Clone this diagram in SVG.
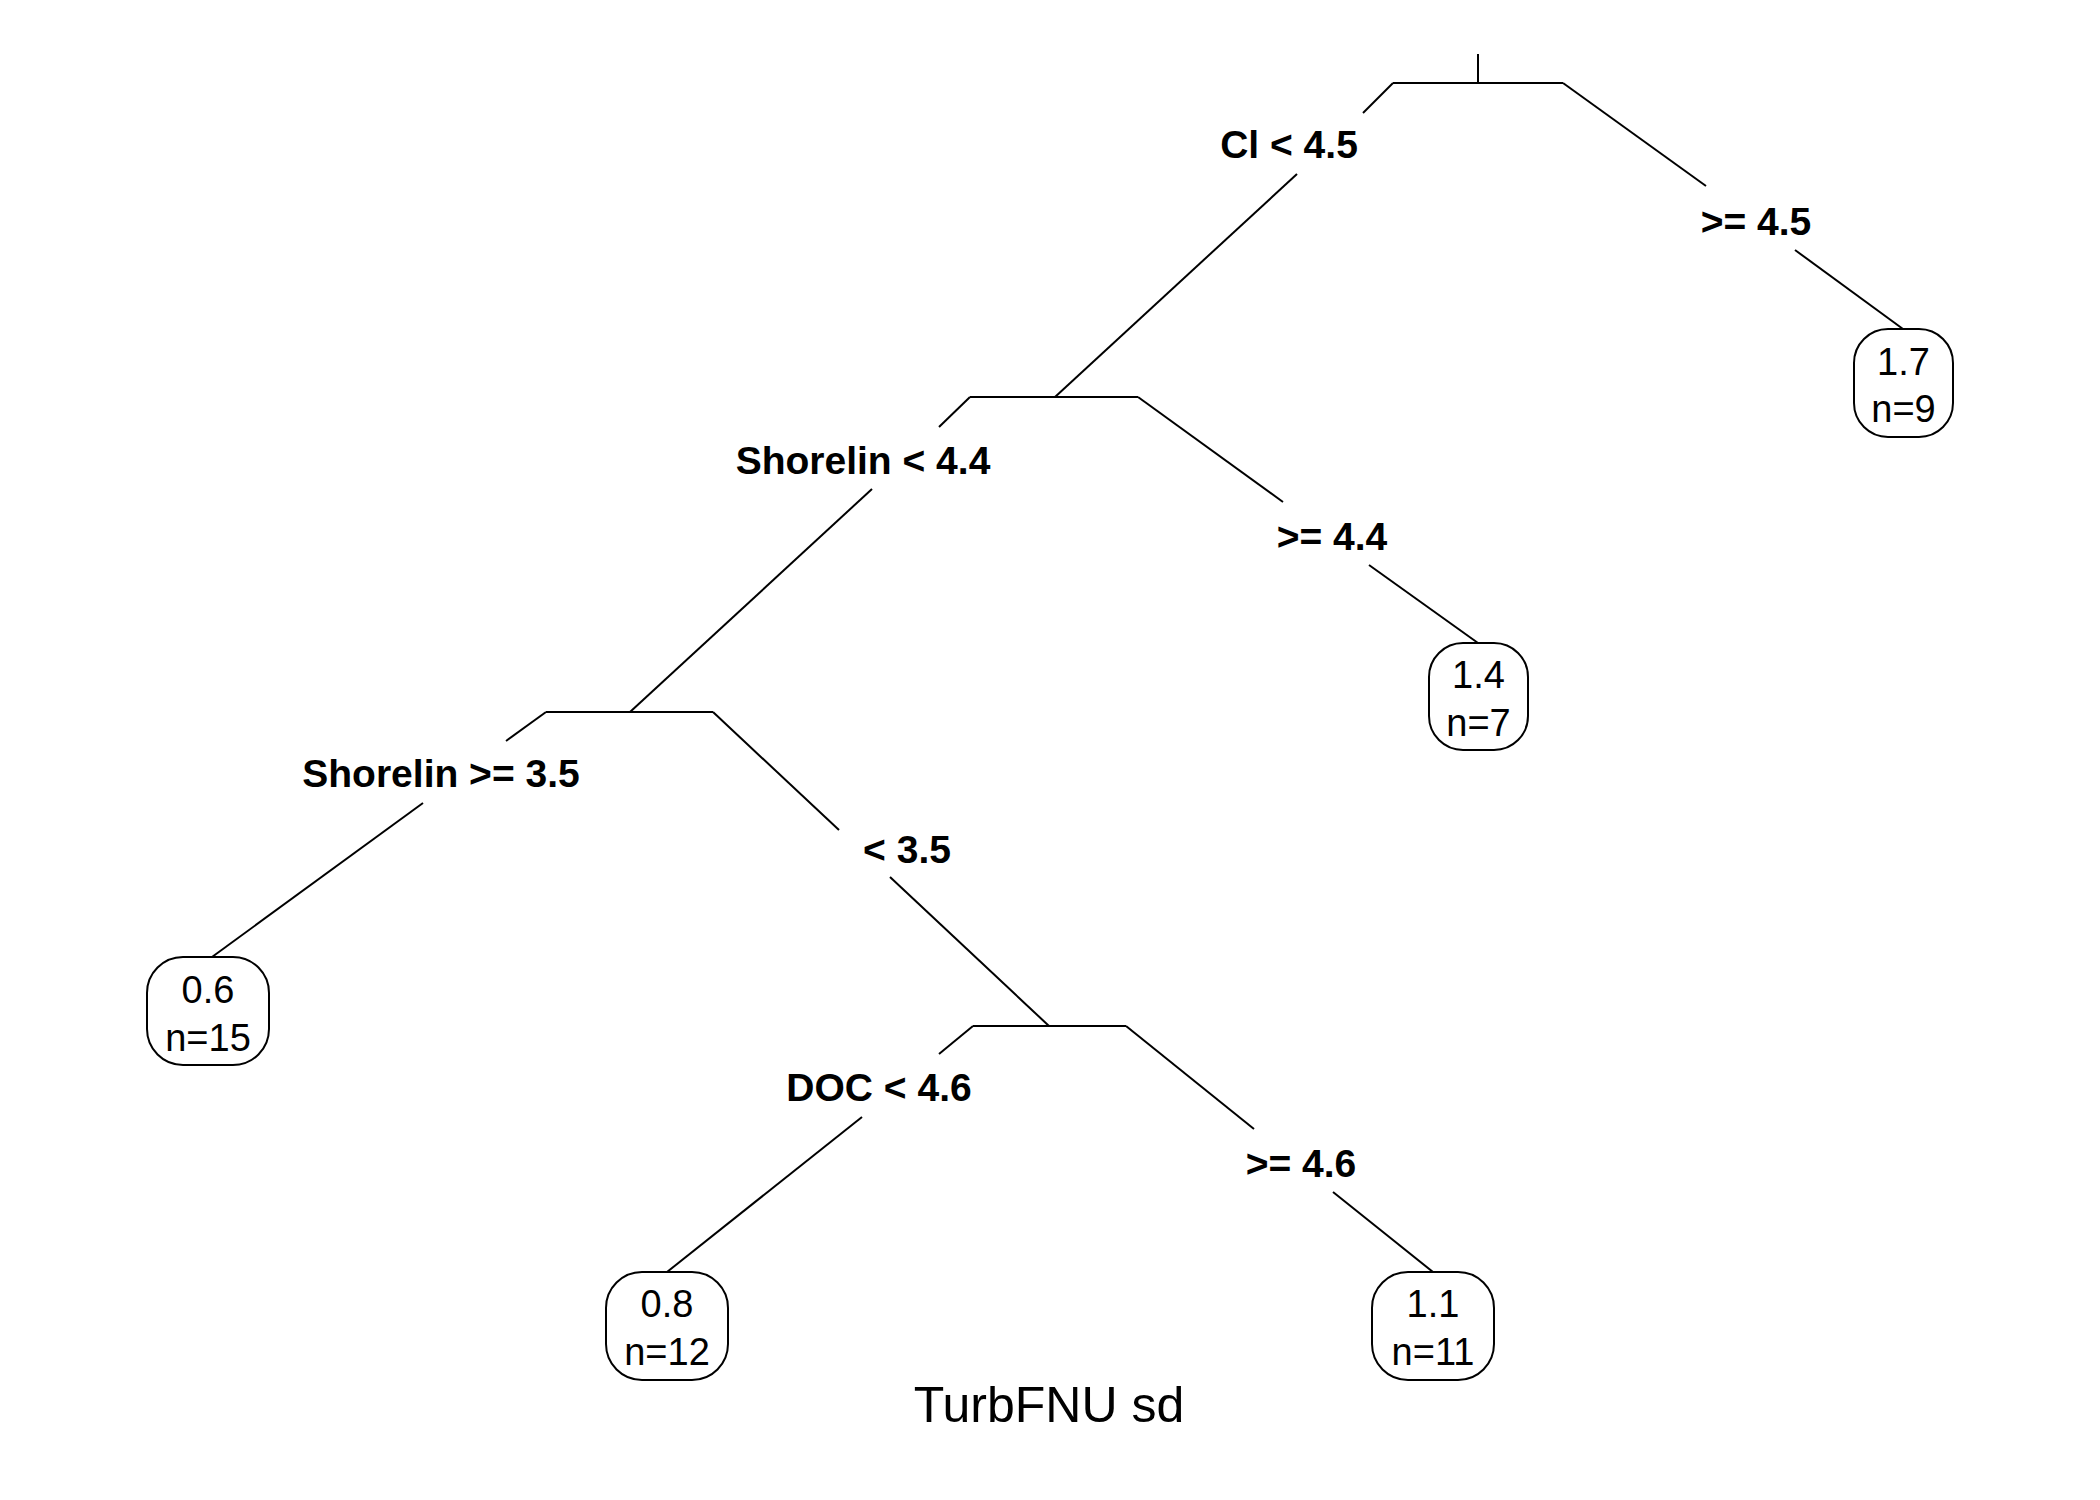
<svg xmlns="http://www.w3.org/2000/svg" width="2100" height="1500" viewBox="0 0 2100 1500">
<style>
  .ln { stroke: #000; stroke-width: 2; fill: none; stroke-linecap: butt; }
  .box { stroke: #000; stroke-width: 2; fill: #fff; }
  .split { font-family: "Liberation Sans", Arial, sans-serif; font-weight: bold; font-size: 39px; text-anchor: middle; fill: #000; }
  .leaf { font-family: "Liberation Sans", Arial, sans-serif; font-size: 38px; text-anchor: middle; fill: #000; }
  .title { font-family: "Liberation Sans", Arial, sans-serif; font-size: 50px; text-anchor: middle; fill: #000; }
</style>
<rect width="2100" height="1500" fill="#fff"/>
<g id="connectors">
  <line class="ln" x1="1478" y1="54" x2="1478" y2="83"/>
  <line class="ln" x1="1393" y1="83" x2="1363" y2="113"/>
  <line class="ln" x1="1297" y1="174" x2="1055" y2="397"/>
  <line class="ln" x1="1563" y1="83" x2="1706" y2="186"/>
  <line class="ln" x1="1795" y1="250" x2="1903" y2="329"/>
  <line class="ln" x1="970" y1="397" x2="939" y2="427"/>
  <line class="ln" x1="872" y1="489" x2="630" y2="712"/>
  <line class="ln" x1="1138" y1="397" x2="1283" y2="502"/>
  <line class="ln" x1="1369" y1="565" x2="1478" y2="643"/>
  <line class="ln" x1="546" y1="712" x2="506" y2="741"/>
  <line class="ln" x1="423" y1="803" x2="212" y2="957"/>
  <line class="ln" x1="713" y1="712" x2="839" y2="830"/>
  <line class="ln" x1="890" y1="877" x2="1049" y2="1026"/>
  <line class="ln" x1="973" y1="1026" x2="939" y2="1054"/>
  <line class="ln" x1="862" y1="1117" x2="667" y2="1272"/>
  <line class="ln" x1="1126" y1="1026" x2="1254" y2="1129"/>
  <line class="ln" x1="1333" y1="1192" x2="1433" y2="1272"/>
</g>
<g id="node-cl">
  <line class="ln" x1="1393" y1="83" x2="1563" y2="83"/>
  <text class="split" x="1289" y="158">Cl &lt; 4.5</text>
  <text class="split" x="1756" y="235">&gt;= 4.5</text>
</g>
<g id="node-shorelin1">
  <line class="ln" x1="970" y1="397" x2="1138" y2="397"/>
  <text class="split" x="863" y="474">Shorelin &lt; 4.4</text>
  <text class="split" x="1332" y="550">&gt;= 4.4</text>
</g>
<g id="node-shorelin2">
  <line class="ln" x1="546" y1="712" x2="713" y2="712"/>
  <text class="split" x="441" y="787">Shorelin &gt;= 3.5</text>
  <text class="split" x="907" y="863">&lt; 3.5</text>
</g>
<g id="node-doc">
  <line class="ln" x1="973" y1="1026" x2="1126" y2="1026"/>
  <text class="split" x="879" y="1101">DOC &lt; 4.6</text>
  <text class="split" x="1301" y="1177">&gt;= 4.6</text>
</g>
<g id="leaf-17">
  <rect class="box" x="1854" y="329" width="99" height="108" rx="34" ry="34"/>
  <text class="leaf" x="1903.5" y="375">1.7</text>
  <text class="leaf" x="1903.5" y="422">n=9</text>
</g>
<g id="leaf-14">
  <rect class="box" x="1429" y="643" width="99" height="107" rx="34" ry="34"/>
  <text class="leaf" x="1478.5" y="688">1.4</text>
  <text class="leaf" x="1478.5" y="736">n=7</text>
</g>
<g id="leaf-06">
  <rect class="box" x="147" y="957" width="122" height="108" rx="36" ry="36"/>
  <text class="leaf" x="208" y="1003">0.6</text>
  <text class="leaf" x="208" y="1051">n=15</text>
</g>
<g id="leaf-08">
  <rect class="box" x="606" y="1272" width="122" height="108" rx="36" ry="36"/>
  <text class="leaf" x="667" y="1317">0.8</text>
  <text class="leaf" x="667" y="1365">n=12</text>
</g>
<g id="leaf-11">
  <rect class="box" x="1372" y="1272" width="122" height="108" rx="36" ry="36"/>
  <text class="leaf" x="1433" y="1317">1.1</text>
  <text class="leaf" x="1433" y="1365">n=11</text>
</g>
<text class="title" x="1049" y="1422">TurbFNU sd</text>
</svg>
